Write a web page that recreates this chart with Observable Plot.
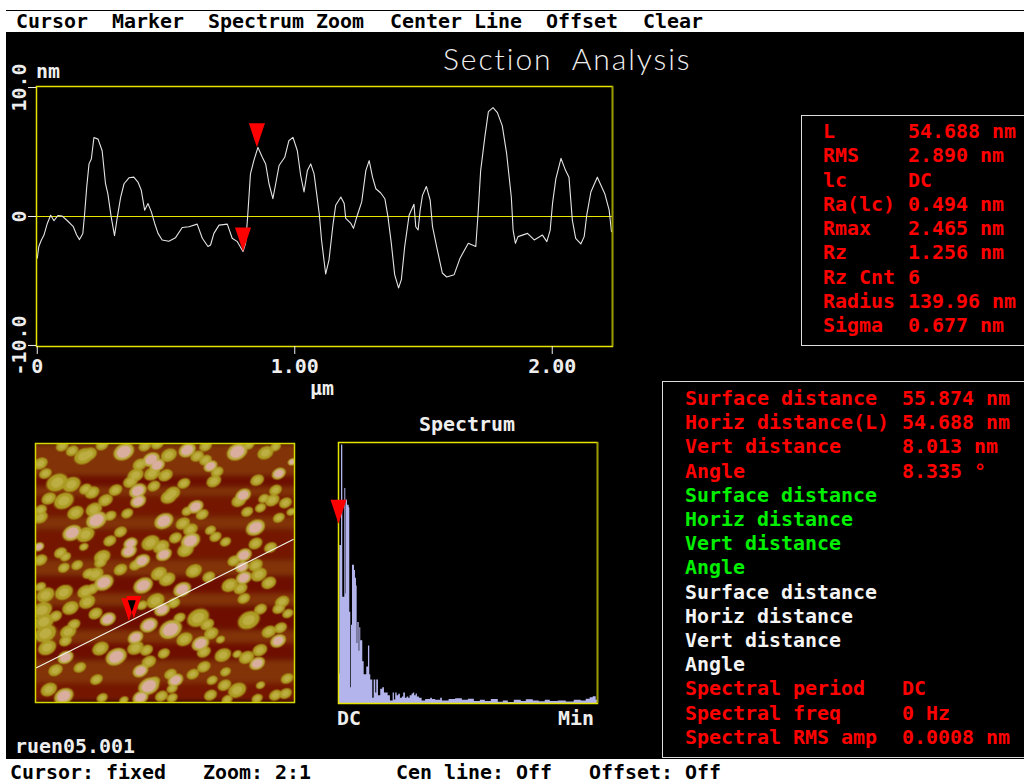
<!DOCTYPE html>
<html>
<head>
<meta charset="utf-8">
<script src="https://cdn.jsdelivr.net/npm/d3@7"></script>
<script src="https://cdn.jsdelivr.net/npm/@observablehq/plot@0.6"></script>
<style>
html,body{margin:0;padding:0;background:#fff;width:1024px;height:783px;overflow:hidden}
#screen{position:absolute;left:6px;top:32px;width:1018px;height:727px;background:#000}
#topline{position:absolute;left:6px;top:10px;width:1018px;height:1px;background:#000}
.lbl{position:absolute;font-family:"DejaVu Sans Mono",monospace;font-weight:bold;font-size:19.93px;line-height:20px;height:20px;white-space:pre}
.box{position:absolute;border:1px solid #ddd;box-sizing:border-box}
svg{position:absolute}
.grainBody{filter:blur(.6px)}
.bands{filter:blur(2.5px)}
</style>
</head>
<body>
<div id="screen"></div><div id="topline"></div>
<div class="box" style="left:801px;top:115px;width:240px;height:231px"></div>
<div class="box" style="left:662px;top:381px;width:380px;height:377px"></div>
<script>
// Section profile: position (um), height (nm)
const profileX = [0,.006,.016,.026,.039,.052,.065,.080,.097,.117,.140,.153,.164,.177,.184,.192,.201,.210,.220,.236,.252,.265,.274,.287,.300,.311,.324,.337,.356,.375,.391,.404,.417,.430,.443,.456,.469,.485,.511,.537,.563,.589,.621,.641,.663,.673,.686,.706,.738,.757,.777,.799,.809,.817,.828,.841,.857,.874,.887,.900,.915,.926,.939,.961,.977,.993,1.010,1.023,1.036,1.049,1.062,1.075,1.085,1.095,1.104,1.120,1.133,1.149,1.159,1.179,1.192,1.198,1.218,1.228,1.243,1.260,1.276,1.289,1.302,1.315,1.334,1.350,1.362,1.375,1.388,1.403,1.414,1.427,1.444,1.463,1.470,1.479,1.487,1.496,1.511,1.526,1.535,1.551,1.573,1.590,1.619,1.642,1.674,1.703,1.712,1.722,1.738,1.752,1.770,1.787,1.806,1.823,1.841,1.848,1.857,1.867,1.904,1.930,1.962,1.979,1.992,2.001,2.014,2.034,2.052,2.065,2.078,2.091,2.111,2.124,2.134,2.150,2.175,2.204,2.221,2.230];
const profileY = [-3.23,-2.33,-1.82,-1.44,-.54,.10,-.33,.08,.03,-.33,-.79,-1.44,-1.79,-1.31,.23,2.28,4.08,4.46,6.13,6.0,5.10,2.54,1.77,-.03,-1.49,-.03,1.51,2.54,3.0,3.05,2.67,2.03,.49,1.0,.36,-.54,-1.31,-1.82,-1.92,-1.64,-.85,-.79,-.59,-1.69,-2.33,-2.21,-1.31,-.67,-.59,-1.69,-1.95,-2.72,-2.08,-.03,3.31,4.33,5.36,4.59,4.08,2.54,1.38,2.54,3.95,4.59,5.87,6.13,5.10,3.18,1.90,3.56,4.08,3.31,1.77,.23,-1.82,-4.46,-3.36,-.54,.87,1.51,1.0,-.15,-.54,-.92,.10,1.13,3.56,4.33,3.05,2.15,1.82,1.38,-.03,-2.08,-4.51,-5.54,-4.90,-2.33,.10,.95,-.79,-1.05,.49,1.64,2.33,1.26,-.79,-2.33,-4.38,-4.69,-4.51,-3.23,-2.08,-2.33,.23,3.56,6.13,8.13,8.44,8.05,7.03,4.85,1.51,-1.05,-2.08,-1.56,-1.31,-1.82,-1.44,-1.95,-1.05,1.0,2.92,4.51,3.56,3.05,-.28,-1.69,-2.13,-1.56,.10,1.90,3.05,1.77,.49,-1.18];
const profileTicksX = [0,1,2];
const profileTicksY = [-10,0,10];
const cursorX = [.853,.799];
const cursorY = [5.36,-2.72];

// Spectrum: bin start, amplitude (fraction of full scale)
const specBin = [0,1.3,3,4.3,6.3,7.3,7.7,9,10.7,11.3,12.3,13,14,16,17,18,18.7,19.3,20.7,21.3,22.3,23.3,24.3,25.7,27,28.3,30,31.3,32.3,33.3,34.3,35.7,37.3,38.3,40,41.3,42.3,44.3,46,47.7,49.7,52,53.3,54.7,56,57.3,58.7,60.3,62,64,65.3,67,68.7,70.3,71.7,73.7,75,76.3,77.7,79,81,83.7,87.3,92.3,94,97.3,102.3,104,110.7,117.3,124,130,136,142,147,153,160,165,170,176,183,188,195,201,207,212,220,228,236,243,248,252,255,258,259.3];
const specAmp = [.113,.605,.99,.407,.824,.42,.78,.76,.75,.35,.06,.3,.53,.51,.48,.45,.23,.31,.2,.29,.24,.24,.16,.11,.11,.14,.22,.11,.09,.09,.02,.09,.04,.09,.03,.03,.055,.06,.04,.04,.03,.01,.01,.04,.013,.04,.03,.035,.02,.025,.04,.02,.025,.02,.03,.036,.04,.03,.036,.025,.02,.01,.015,.02,.015,.012,.02,.01,.015,.018,.012,.016,.008,.012,.008,.015,.005,.01,.004,.012,.008,.014,.01,.007,.012,.008,.01,.006,.012,.01,.016,.022,.026,.012,.012];
const specCursorX = [0];
const specCursorY = [.689];

// Height image: grains without and with a tall top, in scan pixels
const lowX = [125,155,245,190,205,60,75,373,410,530,555,735,685,765,358,445,555,590,395,435,345,330,110,153,490,580,710,400,285,195,215,455,445,255,130,655,765,730,755,795,85,60,220,165,500,545,680,720,812,60,270,320,487,775,510,195,300,570,585,465,268,615,390,705,422,495,750,190,120,245,135,640,345,240,60,170,300,705,130,520,225,415,440,565,715,205,60,745,628,660,130,195,215,75,405,200,670,785,775,65,150,365,460,720,802,225,533,70,105,685,477,560,160,143,745,780,75,572,492,135,600,80,345,378,240,550,718,430,607,650,678,385,550,105,178,615,450,228,517,400,575,85,612,650,455,720,245,423,455,570,765,795,710,620,310,800];
const lowY = [48,62,45,78,72,100,130,48,42,78,48,68,45,50,103,75,90,125,130,135,135,155,157,163,160,153,150,168,180,177,187,190,200,210,212,212,180,205,210,218,205,240,238,248,243,253,245,233,245,262,257,250,280,263,298,313,305,300,320,323,332,335,338,340,350,360,352,350,368,380,380,392,405,397,390,405,418,405,413,422,432,430,447,440,433,430,470,458,465,475,487,485,477,495,512,515,505,515,535,540,533,525,518,537,550,550,563,575,558,570,563,583,583,605,605,593,610,610,627,632,628,652,653,660,655,665,660,670,675,672,682,695,710,720,712,725,732,748,732,755,750,778,765,780,775,765,803,798,803,795,795,790,805,808,810,745];
const lowR = [14,14,14,22,18,16,14,14,14,15,14,18,12,12,16,18,14,14,18,16,18,16,24,20,14,16,15,14,15,14,16,18,18,16,22,16,14,12,16,14,16,14,18,18,12,14,13,12,10,16,13,13,16,13,16,20,14,12,13,14,14,12,20,15,18,18,14,10,14,18,12,14,14,14,15,13,15,16,13,18,18,18,18,14,18,14,12,16,18,15,20,18,14,20,20,18,14,16,14,22,18,12,14,14,12,15,24,22,14,24,13,15,14,18,16,14,24,16,18,14,10,20,18,14,18,15,16,13,18,10,17,16,15,16,14,12,14,14,14,14,12,18,15,20,12,10,12,14,12,14,14,14,12,12,10,14];
const tallX = [310,500,650,815,392,410,570,775,352,353,668,525,228,430,705,155,510,330,55,325,430,670,365,665,670,250,368,485,425,262,385,450,345,540,773,287,135,710,360,465,385,130,360];
const tallY = [65,60,65,95,88,105,108,130,182,213,195,230,270,273,292,308,332,340,350,363,373,375,392,410,443,457,466,478,538,567,585,598,622,640,632,680,682,700,722,750,768,798,802];
const tallR = [24,20,24,10,20,18,16,16,20,18,18,18,24,22,22,22,22,16,12,18,18,18,18,16,18,22,22,20,18,18,20,26,18,20,18,24,18,18,18,18,24,22,18];
const bandTop = [40,140,170,200,260,300,390,440,490,530,600,640,690,760];
const bandBottom = [140,170,200,260,300,390,440,490,530,600,640,690,760,817];
const bandLevel = [2,0,2,1,2,1,2,0,2,0,2,0,2,1];
const sectionX = [48,818];
const sectionY = [713,328];
const imgCursorX = [340,325];
const imgCursorY = [565,572];
const imgCursorInnerX = [334];
const imgCursorInnerY = [546];

// Text read-outs
const menuLabels = ["Cursor","Marker","Spectrum Zoom","Center Line","Offset","Clear"];
const menuAt = [16,112,208,390,546,643];
const statusLabels = ["Cursor: fixed","Zoom: 2:1","Cen line: Off","Offset: Off"];
const statusAt = [10,203,396,589];
const roughLabels = ["L","RMS","lc","Ra(lc)","Rmax","Rz","Rz Cnt","Radius","Sigma"];
const roughValues = ["54.688 nm","2.890 nm","DC","0.494 nm","2.465 nm","1.256 nm","6","139.96 nm","0.677 nm"];
const measureLabels = ["Surface distance","Horiz distance(L)","Vert distance","Angle","Surface distance","Horiz distance","Vert distance","Angle","Surface distance","Horiz distance","Vert distance","Angle","Spectral period","Spectral freq","Spectral RMS amp"];
const measureValues = ["55.874 nm","54.688 nm","8.013 nm","8.335 °","","","","","","","","","DC","0 Hz","0.0008 nm"];
const measureColors = ["r","r","r","r","g","g","g","g","w","w","w","w","r","r","r"];

const FONT = '"DejaVu Sans Mono",monospace';
const YELLOW = "#e6e600", OLIVE = "#9a9a00", RED = "#ff0000", WHITE = "#eeeeee";
const palette = {r:RED, g:"#00f000", w:"#f4f4f4"};

function label(text, x, y, color, extra) {
  const d = document.createElement("div");
  d.className = "lbl";
  d.textContent = text;
  d.style.left = x + "px";
  d.style.top = (y - 9) + "px";
  d.style.color = color;
  if (extra) Object.assign(d.style, extra);
  document.body.appendChild(d);
  return d;
}
// downward triangle whose tip sits on the data point
const cursorSymbol = {draw(ctx, size) {
  const r = Math.sqrt(size / Math.PI);
  ctx.moveTo(-r, -3 * r); ctx.lineTo(r, -3 * r); ctx.lineTo(0, 0); ctx.closePath();
}};
// grains are ellipses tilted along the scan's drift direction
const grainSymbol = {draw(ctx, size) {
  const r = Math.sqrt(size / Math.PI), a = -28 * Math.PI / 180, n = 20;
  for (let i = 0; i < n; i++) {
    const t = 2 * Math.PI * i / n, ex = r * Math.cos(t), ey = .74 * r * Math.sin(t);
    const px = ex * Math.cos(a) - ey * Math.sin(a), py = ex * Math.sin(a) + ey * Math.cos(a);
    i ? ctx.lineTo(px, py) : ctx.moveTo(px, py);
  }
  ctx.closePath();
}};
function place(svg, x, y) {
  svg.style.left = x + "px"; svg.style.top = y + "px";
  document.body.appendChild(svg);
}
const baseStyle = {background:"transparent", color:WHITE, fontFamily:FONT, fontSize:"19.93px", fontWeight:"bold", overflow:"visible"};

// Profile
place(Plot.plot({
  width:640, height:400, marginLeft:36, marginRight:28, marginTop:86, marginBottom:54, style:baseStyle,
  x:{domain:[-.003,2.234]}, y:{domain:[-10.08,10.08]},
  marks:[
    Plot.ruleY([0],{stroke:YELLOW}),
    Plot.line(profileY,{x:profileX,y:profileY,stroke:"#e4e4e4",strokeWidth:1.1}),
    Plot.frame({stroke:YELLOW,strokeWidth:1.5}),
    Plot.ruleX([2.234],{stroke:OLIVE,strokeWidth:1.5}),
    Plot.axisX(profileTicksX,{tickSize:8,tickPadding:4,label:null,tickFormat:d=>d===0?"0":d.toFixed(2),stroke:WHITE}),
    Plot.axisY(profileTicksY,{tickSize:8,tickPadding:3,label:null,tickRotate:-90,tickFormat:d=>d===0?"0":d.toFixed(1),stroke:WHITE}),
    Plot.dot(cursorY,{x:cursorX,y:cursorY,r:8,symbol:cursorSymbol,fill:RED,stroke:"none"})
  ]
}),0,0);

// Height image
const grainDots = (X, Y, R, k, fill) => Plot.dot(R,{x:X,y:Y,r:R.map(v=>v*k),symbol:grainSymbol,fill,stroke:"none",clip:"frame",className:"grainBody"});
place(Plot.plot({
  width:279, height:279, margin:10, style:baseStyle,
  x:{domain:[45,822],axis:null}, y:{domain:[40,817],reverse:true,axis:null},
  r:{type:"linear",domain:[0,777],range:[0,259]},
  color:{type:"ordinal",domain:[0,1,2],range:["#6e0e00","#751700","#823308"]},
  marks:[
    Plot.rect(bandLevel,{x1:30,x2:837,y1:bandTop,y2:bandBottom,fill:bandLevel,inset:0,clip:"frame",className:"bands"}),
    grainDots(lowX,lowY,lowR,1.55,"#8a4c08"),
    grainDots(tallX,tallY,tallR,1.5,"#8a4c08"),
    grainDots(lowX,lowY,lowR,1.35,"#ad9c24"),
    grainDots(tallX,tallY,tallR,1.32,"#b8a93a"),
    grainDots(lowX,lowY,lowR,.8,"#bdae44"),
    grainDots(tallX,tallY,tallR,.95,"#d9ae9e"),
    Plot.line(sectionX,{x:sectionX,y:sectionY,stroke:"#f2f2e8",strokeWidth:1.2}),
    Plot.dot(imgCursorX,{x:imgCursorX,y:imgCursorY,r:7.5,symbol:cursorSymbol,fill:RED,stroke:"none"}),
    Plot.dot(imgCursorInnerX,{x:imgCursorInnerX,y:imgCursorInnerY,r:4,symbol:cursorSymbol,fill:"#000",stroke:"none"}),
    Plot.frame({stroke:"#d8d800",strokeWidth:1.5})
  ]
}),25,433);

// Spectrum
place(Plot.plot({
  width:320, height:320, marginLeft:38, marginRight:23, marginTop:32, marginBottom:27, style:baseStyle,
  x:{domain:[0,259.3],axis:null}, y:{domain:[0,1],axis:null},
  marks:[
    Plot.areaY(specAmp,{x:specBin,y1:0,y2:specAmp,curve:"step-after",fill:"#b4b4ec"}),
    Plot.frame({stroke:YELLOW,strokeWidth:1.5}),
    Plot.ruleX([259.3],{stroke:OLIVE,strokeWidth:1.5}),
    Plot.dot(specCursorY,{x:specCursorX,y:specCursorY,r:8,symbol:cursorSymbol,fill:RED,stroke:"none"})
  ]
}),300,410);

// Text
menuLabels.forEach((t,i)=>label(t,menuAt[i],21,"#000"));
statusLabels.forEach((t,i)=>label(t,statusAt[i],772,"#000"));
roughLabels.forEach((t,i)=>{
  const y = 131 + i*24.25;
  label(t,823,y,RED); label(roughValues[i],908,y,RED);
});
measureLabels.forEach((t,i)=>{
  const y = 398 + i*24.2, c = palette[measureColors[i]];
  label(t,685,y,c);
  if (measureValues[i]) label(measureValues[i],902,y,c);
});
label("nm",36,71,WHITE);
label("µm",310,388,WHITE);
label("Spectrum",419,424,WHITE);
label("DC",337,718,WHITE);
label("Min",558,718,WHITE);
label("ruen05.001",15,746,WHITE);
label("Section  Analysis",443,60,WHITE,{fontFamily:"Lato,sans-serif",fontWeight:"300",fontSize:"30px",lineHeight:"34px",height:"34px",top:"41px",letterSpacing:"1.95px"});
</script>
</body>
</html>
